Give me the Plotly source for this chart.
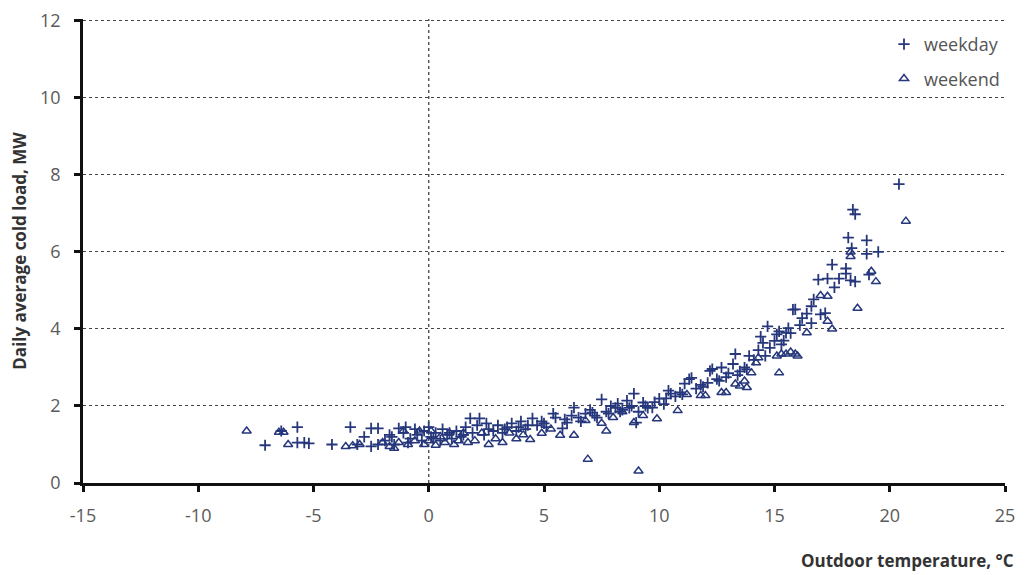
import plotly.graph_objects as go

# Weekday points: outdoor temperature (°C) and daily average cold load (MW)
weekday_temp = [-7.1, -6.4, -5.7, -5.7, -5.4, -5.2, -4.2, -3.4, -3.1, -2.8, -2.5, -2.2, -2.5, -2.2,
                -1.9, -1.7, -1.5, -1.3, -1.1, -1.0, -0.8, -0.6, -0.5, -0.3, -0.2, 0.0, 0.1, 0.3,
                0.5, 0.6, 0.8, 1.0, 1.2, 1.4, 1.6, 1.8, 1.9, 2.1, 2.2, 2.4, 2.6, 2.8, 3.0, 3.2,
                3.4, 3.6, 3.8, 4.0, 4.2, 4.5, 4.7, 4.9, 5.1, 5.4, 5.5, 5.8, 6.0, 6.2, 6.3, 6.6,
                6.8, 7.0, 7.1, 7.3, 7.5, 7.7, 7.9, 8.1, 8.2, 8.4, 8.6, 8.8, 8.9, 9.0, 9.1, 9.3,
                9.5, 9.7, 10.0, 10.2, 10.4, 10.5, 10.7, 10.9, 11.1, 11.3, 11.4, 11.6, 11.8, 12.1,
                12.2, 12.3, 12.5, 12.7, 12.9, 13.0, 13.2, 13.3, 13.5, 13.7, 13.9, 14.1, 14.3, 14.4,
                14.5, 14.7, 14.8, 15.0, 15.1, 15.2, 15.4, 15.5, 15.6, 15.7, 15.8, 15.9, 16.1, 16.2,
                16.4, 16.6, 16.6, 16.7, 16.9, 17.0, 17.2, 17.3, 17.5, 17.6, 17.8, 18.1, 18.1, 18.2,
                18.3, 18.35, 18.4, 18.5, 18.5, 19.0, 19.0, 19.1, 19.5, 20.4,
                -1.6, -0.9, 0.2, 0.9, 1.5, 2.5, 3.3, 3.9, 4.3, 5.0, 5.9, 6.5, 7.2, 7.8, 8.3, 8.7,
                9.4, 9.8, 10.3, 11.0, 11.9, 12.6, 13.4, 13.8, 14.6, 15.3]
weekday_load = [0.98, 1.35, 1.45, 1.05, 1.05, 1.03, 1.0, 1.45, 1.0, 1.2, 1.42, 1.42, 0.95, 1.0,
                1.1, 1.25, 1.0, 1.42, 1.3, 1.45, 1.15, 1.4, 1.25, 1.1, 1.35, 1.45, 1.2, 1.3,
                1.1, 1.4, 1.25, 1.15, 1.35, 1.2, 1.45, 1.68, 1.3, 1.5, 1.68, 1.25, 1.4, 1.35, 1.5, 1.3,
                1.45, 1.55, 1.35, 1.6, 1.4, 1.68, 1.5, 1.6, 1.45, 1.8, 1.7, 1.42, 1.57, 1.75, 1.96, 1.6,
                1.8, 1.9, 1.83, 1.7, 2.17, 1.85, 2.0, 1.95, 2.06, 1.9, 2.14, 2.0, 2.32, 1.57, 1.85, 2.09,
                1.95, 1.96, 2.19, 2.05, 2.4, 2.32, 2.25, 2.35, 2.58, 2.7, 2.73, 2.45, 2.55, 2.6,
                2.91, 2.96, 2.7, 3.0, 2.75, 2.85, 3.09, 3.35, 2.9, 3.0, 3.3, 3.2, 3.45, 3.8,
                3.64, 4.07, 3.51, 3.69, 3.86, 3.94, 3.7, 3.9, 4.02, 3.89, 4.5, 4.51, 4.1, 4.28,
                4.4, 4.15, 4.59, 4.77, 5.28, 4.38, 4.41, 5.31, 5.67, 5.08, 5.31, 5.57, 5.44, 6.37,
                5.26, 6.1, 7.1, 6.98, 5.23, 6.3, 5.95, 5.41, 6.0, 7.76,
                1.2, 1.05, 1.15, 1.3, 1.25, 1.55, 1.4, 1.45, 1.5, 1.55, 1.65, 1.7, 1.75, 1.8, 1.85, 1.95,
                2.0, 2.1, 2.2, 2.3, 2.5, 2.65, 2.8, 2.95, 3.3, 3.6]

# Weekend points
weekend_temp = [-7.9, -6.5, -6.3, -6.1, -3.6, -3.3, -3.0, -2.0, -1.7, -1.5, -1.3, -1.1, -0.9, -0.6,
                -0.4, -0.2, 0.0, 0.1, 0.3, 0.5, 0.7, 0.9, 1.1, 1.3, 1.5, 1.7, 2.0, 2.3, 2.6, 2.9,
                3.2, 3.5, 3.8, 4.1, 4.4, 4.9, 5.3, 5.7, 6.3, 6.8, 6.9, 7.5, 7.7, 8.0, 8.4, 8.9,
                9.1, 9.3, 9.9, 10.8, 11.2, 11.8, 12.0, 12.7, 12.9, 13.3, 13.5, 13.7, 13.8, 14.0,
                14.2, 14.3, 15.1, 15.2, 15.3, 15.5, 15.7, 15.9, 16.0, 16.4, 17.3, 17.5, 17.0, 17.3,
                18.3, 18.3, 18.6, 19.2, 19.4, 20.7]
weekend_load = [1.35, 1.32, 1.32, 1.0, 0.95, 0.97, 1.0, 1.05, 0.95, 0.9, 1.05, 1.35, 1.0, 1.1,
                1.35, 1.0, 1.1, 1.35, 0.98, 1.2, 1.05, 1.3, 1.0, 1.1, 1.3, 1.05, 1.1, 1.3, 1.0, 1.15,
                1.05, 1.3, 1.15, 1.25, 1.13, 1.29, 1.4, 1.24, 1.24, 1.62, 0.62, 1.55, 1.35, 1.7, 1.85, 1.57,
                0.31, 1.75, 1.67, 1.88, 2.3, 2.27, 2.27, 2.35, 2.35, 2.57, 2.52, 2.65, 2.48, 2.86,
                3.12, 3.25, 3.3, 2.86, 3.35, 3.35, 3.4, 3.35, 3.3, 3.9, 4.2, 4.0, 4.87, 4.85,
                5.88, 6.0, 4.54, 5.5, 5.23, 6.8]

x_ticks = [-15, -10, -5, 0, 5, 10, 15, 20, 25]
x_tick_text = ["-15", "-10", "-5", "0", "5", "10", "15", "20", "25"]
y_ticks = [0, 2, 4, 6, 8, 10, 12]
y_tick_text = ["0", "2", "4", "6", "8", "10", "12"]

navy = "#26377c"
font_family = "Open Sans, Noto Sans, sans-serif"

fig = go.Figure()
fig.add_trace(go.Scatter(
    x=weekday_temp, y=weekday_load, mode="markers", name="weekday", legendgroup="weekday",
    marker=dict(symbol="cross-thin", size=8, color=navy, line=dict(color=navy, width=1.8)),
))
fig.add_trace(go.Scatter(
    x=weekend_temp, y=weekend_load, mode="markers", name="weekend", legendgroup="weekend",
    marker=dict(symbol="triangle-up-open", size=8, color=navy, line=dict(color=navy, width=1.5)),
))

# dotted vertical reference line at 0 °C
fig.add_shape(type="line", xref="x", yref="paper", x0=0, x1=0, y0=0, y1=1,
              line=dict(color="#444", width=1.3, dash="dot"), layer="below")

fig.update_layout(
    width=1022, height=567,
    margin=dict(l=75, r=25, t=11, b=92, autoexpand=False),
    paper_bgcolor="white", plot_bgcolor="white",
    font=dict(family=font_family, size=17, color="#5a5a5a"),
    showlegend=True,
    legend=dict(x=1.0, y=0.985, xanchor="right", yanchor="top",
                bgcolor="rgba(0,0,0,0)", font=dict(size=18, color="#555"),
                itemwidth=30, tracegroupgap=8, traceorder="grouped"),
    xaxis=dict(range=[-15, 25], tickvals=x_ticks, ticktext=x_tick_text, showgrid=False,
               zeroline=False, automargin=False, ticklabelstandoff=9, ticklabeloverflow="allow",
               showline=True, linecolor="#111", linewidth=2.5,
               ticks="outside", ticklen=6, tickwidth=2.5, tickcolor="#111",
               tickfont=dict(size=18, color="#5a5a5a")),
    yaxis=dict(range=[0, 12.05], tickvals=y_ticks, ticktext=y_tick_text, showgrid=True,
               gridcolor="#444", gridwidth=1.3, griddash="dot", zeroline=False, automargin=False,
               ticklabelstandoff=10, ticklabeloverflow="allow",
               showline=True, linecolor="#111", linewidth=2.5,
               ticks="outside", ticklen=6, tickwidth=2.5, tickcolor="#111",
               tickfont=dict(size=18, color="#5a5a5a"),
               title=dict(text="<b>Daily average cold load, MW</b>",
                          font=dict(size=17, color="#333"), standoff=10)),
    annotations=[dict(text="<b>Outdoor temperature, °C</b>", xref="paper", yref="paper",
                      x=1.012, y=-0.168, xanchor="right", yanchor="middle", showarrow=False,
                      font=dict(size=17, color="#333"))],
)

fig.write_html("out.html")
